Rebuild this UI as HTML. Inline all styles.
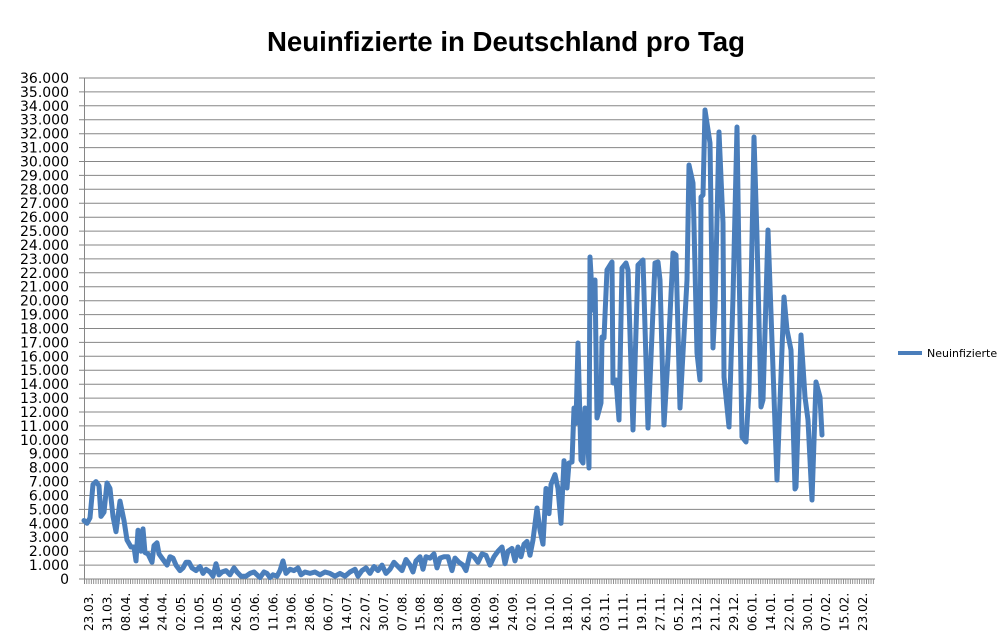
<!DOCTYPE html>
<html><head><meta charset="utf-8"><style>
body{margin:0;background:#fff;}
svg{display:block;font-family:"Liberation Sans","DejaVu Sans",sans-serif;}
</style></head><body>
<svg width="1006" height="641" viewBox="0 0 1006 641" xmlns="http://www.w3.org/2000/svg">
<defs>
<pattern id="tk" x="84" y="0" width="2.3" height="10" patternUnits="userSpaceOnUse">
<rect x="0" y="0" width="0.9" height="10" fill="#888"/>
</pattern>
</defs>
<rect width="1006" height="641" fill="#fff"/>
<text x="506" y="51" text-anchor="middle" font-size="28" font-weight="bold" fill="#000" textLength="478" lengthAdjust="spacingAndGlyphs">Neuinfizierte in Deutschland pro Tag</text>
<g id="grid" stroke="#868686" stroke-width="1"></g>
<rect x="84" y="579" width="791" height="5" fill="url(#tk)"/>
<line x1="84" y1="579" x2="875" y2="579" stroke="#868686"/>
<line x1="84.5" y1="78" x2="84.5" y2="584" stroke="#868686"/>
<g id="yl" font-size="14" text-anchor="end" fill="#000" style="font-family:'DejaVu Sans',sans-serif"></g>
<g id="xl" font-size="12" fill="#000" style="font-family:'DejaVu Sans',sans-serif"></g>
<polyline id="ln" fill="none" stroke="#4a7ebb" stroke-width="5" stroke-linejoin="round" stroke-linecap="round" points=""/>
<line x1="898" y1="353" x2="922" y2="353" stroke="#4a7ebb" stroke-width="4"/>
<text x="927" y="357" font-size="11" fill="#000" style="font-family:'DejaVu Sans',sans-serif">Neuinfizierte</text>
</svg>
<script>
var ns="http://www.w3.org/2000/svg";
var g=document.getElementById('grid'),yl=document.getElementById('yl'),xl=document.getElementById('xl');
for(var i=0;i<=36;i++){var y=579-i*13.917;
 var l=document.createElementNS(ns,'line');l.setAttribute('x1',79);l.setAttribute('x2',i>0?875:84);l.setAttribute('y1',y.toFixed(1));l.setAttribute('y2',y.toFixed(1));g.appendChild(l);
 var t=document.createElementNS(ns,'text');t.setAttribute('x',69);t.setAttribute('y',(y+5).toFixed(1));
 t.textContent=i==0?'0':(i+'.000');yl.appendChild(t);}
var d="23.03. 31.03. 08.04. 16.04. 24.04. 02.05. 10.05. 18.05. 26.05. 03.06. 11.06. 19.06. 28.06. 06.07. 14.07. 22.07. 30.07. 07.08. 15.08. 23.08. 31.08. 08.09. 16.09. 24.09. 02.10. 10.10. 18.10. 26.10. 03.11. 11.11. 19.11. 27.11. 05.12. 13.12. 21.12. 29.12. 06.01. 14.01. 22.01. 30.01. 07.02. 15.02. 23.02.".split(' ');
for(var i=0;i<d.length;i++){var x=93+i*18.43;var t=document.createElementNS(ns,'text');
 t.setAttribute('transform','translate('+x.toFixed(1)+',631) rotate(-90)');t.textContent=d[i];xl.appendChild(t);}
var early=[[84,4.2],[87,4.0],[90,4.4],[93,6.8],[96,7.0],[99,6.7],[101,4.5],[104,4.8],[107,6.9],[110,6.5],[113,4.5],[116,3.4],[120,5.6],[124,4.2],[127,2.8],[131,2.3],[134,2.3],[136,1.3],[138,3.5],[141,2.0],[143,3.6],[145,1.9],[148,1.8],[152,1.2],[154,2.4],[157,2.6],[159,1.8],[163,1.4],[167,1.0],[170,1.6],[173,1.5],[176,1.0],[180,0.6],[183,0.8],[186,1.2],[189,1.2],[192,0.8],[196,0.6],[200,0.9],[203,0.4],[206,0.7],[210,0.5],[213,0.2],[216,1.1],[219,0.3],[222,0.5],[226,0.6],[230,0.3],[234,0.8],[237,0.5],[241,0.2],[246,0.2],[250,0.4],[254,0.5],[257,0.3],[260,0.1],[264,0.5],[267,0.4],[270,0.1],[273,0.3],[277,0.2],[280,0.6],[283,1.3],[286,0.4],[290,0.7],[294,0.6],[298,0.8],[301,0.3],[305,0.5],[310,0.4],[315,0.5],[320,0.3],[325,0.5],[330,0.4],[335,0.2],[340,0.4],[345,0.2],[350,0.5],[355,0.7],[358,0.2],[362,0.6],[366,0.8],[370,0.4],[374,0.9],[378,0.6],[382,1.0],[386,0.4],[390,0.7],[394,1.2],[398,0.9],[402,0.6],[406,1.4],[410,1.0],[413,0.5],[416,1.3],[420,1.6],[423,0.7],[426,1.6],[430,1.5],[434,1.8],[437,0.8],[440,1.5],[444,1.6],[448,1.6],[452,0.6],[455,1.5],[459,1.2],[463,1.0],[466,0.6],[470,1.8],[474,1.6],[478,1.2],[482,1.8],[486,1.7],[490,1.0],[494,1.6],[498,2.0],[502,2.3],[505,1.1],[508,2.0],[512,2.2],[515,1.3],[518,2.3],[521,1.6],[524,2.5],[527,2.7],[530,1.7],[533,2.8],[537,5.1],[540,3.5],[543,2.5],[546,6.5],[549,4.7],[551,6.8],[555,7.5],[558,6.5],[561,4.0],[564,8.5]];
var pts=early.map(function(p){return p[0]+','+(579-p[1]*13.917).toFixed(1);});
var late=[[567,488],[569,463],[572,462],[574,408],[576,423],[578,343],[581,460],[583,463],[585,408],[587,423],[589,468],[590,257],[593,310],[595,280],[597,418],[601,403],[602,337],[604,338],[607,270],[612,262],[613,383],[616,380],[619,420],[622,268],[626,263],[628,270],[633,430],[638,265],[643,260],[648,428],[655,263],[658,262],[660,280],[664,425],[668,357],[673,253],[676,255],[680,408],[687,280],[689,165],[693,183],[697,353],[700,380],[701,197],[703,195],[705,110],[710,143],[713,348],[715,307],[719,132],[723,223],[724,377],[729,427],[733,297],[737,127],[739,263],[742,437],[746,442],[749,390],[752,240],[754,137],[757,237],[761,407],[763,400],[768,230],[777,480],[784,297],[787,330],[791,350],[795,489],[796,487],[801,335],[805,397],[808,420],[812,500],[816,382],[820,397],[822,435]];
late.forEach(function(p){pts.push(p[0]+','+p[1]);});
document.getElementById('ln').setAttribute('points',pts.join(' '));
</script>
</body></html>
